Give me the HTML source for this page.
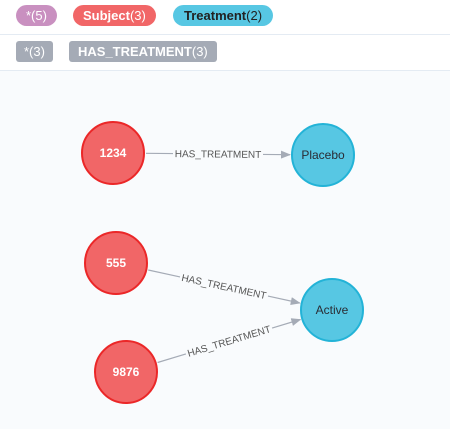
<!DOCTYPE html>
<html><head><meta charset="utf-8"><style>
body{margin:0;width:450px;height:429px;overflow:hidden;background:#fff;font-family:"Liberation Sans",Arial,sans-serif}
.row{position:absolute;left:0;width:450px;border-bottom:1px solid #e4ebf3;background:#fff}
.pill{position:absolute;height:21px;line-height:21px;border-radius:11px;font-size:13px;padding:0 10px;white-space:nowrap}
.rel{border-radius:3px;background:#a5abb6;color:#fff;font-weight:bold;padding:0 9px}
</style></head><body>
<div class="row" style="top:0;height:34px">
<div class="pill" style="left:16px;top:5px;background:#c990c0;color:#fff">*(5)</div>
<div class="pill" style="left:73px;top:5px;background:#f16667;color:#fff"><b>Subject</b>(3)</div>
<div class="pill" style="left:173px;top:5px;background:#57c7e3;color:#222;padding:0 11px"><b>Treatment</b>(2)</div>
</div>
<div class="row" style="top:35px;height:35px">
<div class="pill rel" style="left:16px;top:6px;font-weight:normal;padding:0 8px">*(3)</div>
<div class="pill rel" style="left:69px;top:6px"><b>HAS_TREATMENT</b><span style="font-weight:normal">(3)</span></div>
</div>
<svg style="position:absolute;left:0;top:71px" width="450" height="358">
<rect width="450" height="358" fill="#f9fbfd"/>
<defs><marker id="ah" markerWidth="10" markerHeight="8" refX="9" refY="4" orient="auto" markerUnits="userSpaceOnUse"><path d="M0,0L10,4L0,8z" fill="#a5abb6"/></marker></defs>
<g id="g" transform="translate(0,-71)"></g>
</svg>
<script>
const nodeNames=["1234","Placebo","555","Active","9876"];
const nodeTypes=["s","t","s","t","s"];
const nodeX=[113,323,116,332,126];
const nodeY=[153,155,263,310,372];
const relFrom=[0,2,4];
const relTo=[1,3,3];
const relLabels=["HAS_TREATMENT","HAS_TREATMENT","HAS_TREATMENT"];
const R=31,NS="http://www.w3.org/2000/svg",g=document.getElementById('g');
function mk(t,a){const e=document.createElementNS(NS,t);for(const k in a)e.setAttribute(k,a[k]);g.appendChild(e);return e;}
relFrom.forEach((f,i)=>{
 const t=relTo[i],x1=nodeX[f],y1=nodeY[f],x2=nodeX[t],y2=nodeY[t];
 const dx=x2-x1,dy=y2-y1,L=Math.hypot(dx,dy),ux=dx/L,uy=dy/L;
 const sx=x1+ux*(R+2),sy=y1+uy*(R+2),ex=x2-ux*(R+2),ey=y2-uy*(R+2);
 const mx=(sx+ex)/2,my=(sy+ey)/2,gap=45;
 const l1=mk('line',{x1:sx,y1:sy,x2:mx-ux*gap,y2:my-uy*gap,stroke:'#a5abb6','stroke-width':1.2});
 
 
 const l2=mk('line',{x1:mx+ux*gap,y1:my+uy*gap,x2:ex,y2:ey,stroke:'#a5abb6','stroke-width':1.2,'marker-end':'url(#ah)'});
 
 
 const ang=Math.atan2(dy,dx)*180/Math.PI;
 const tx=mk('text',{x:mx,y:my+3.5,'text-anchor':'middle','font-size':10,fill:'#555',transform:`rotate(${ang} ${mx} ${my})`});
 tx.textContent=relLabels[i];
 
 
});
nodeNames.forEach((n,i)=>{
 const s=nodeTypes[i]==='s';
 const c=mk('circle',{cx:nodeX[i],cy:nodeY[i],r:R,fill:s?'#f16667':'#57c7e3',stroke:s?'#eb2728':'#23b3d7','stroke-width':2});
 
 
 const t=mk('text',{x:nodeX[i],y:nodeY[i]+4,'text-anchor':'middle','font-size':12,'font-weight':s?'bold':'normal',fill:s?'#fff':'#2a2c34'});
 t.textContent=n;
 
 
});
</script>
</body></html>
